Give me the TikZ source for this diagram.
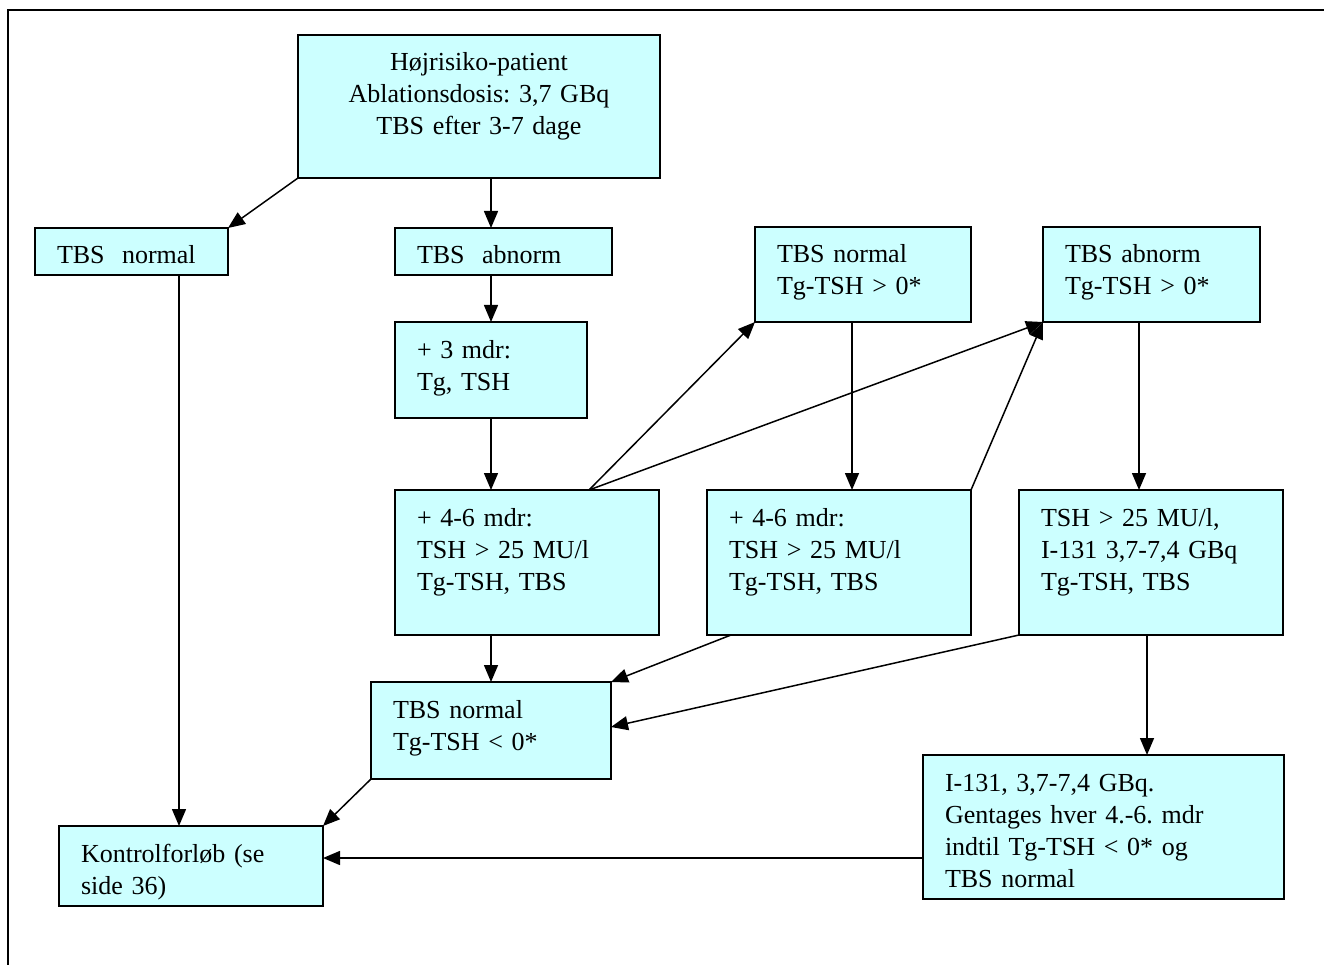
\documentclass[tikz,border=0pt]{standalone}
\usepackage{fontspec}
\setmainfont{Liberation Serif}
\usetikzlibrary{arrows.meta,calc}
\definecolor{boxfill}{RGB}{204,255,255}
\tikzset{
  box/.style={draw=black, line width=1.8pt, fill=boxfill, rectangle, inner sep=0pt, outer sep=0pt, anchor=north west},
  txt/.style={font=\fontsize{26}{32}\selectfont\frenchspacing, inner sep=0pt, outer sep=0pt, text width=340pt, align=left, anchor=base west},
  arr/.style={line width=1.5pt, -{Triangle[length=17pt,width=14pt]}},
  frame/.style={line width=2.2pt}
}
\newcommand{\boxtext}[3]{\node[txt] (#1t) at ([shift={(22pt,-36pt)}]#2.north west) {#3};}
\begin{document}
\frenchspacing
\begin{tikzpicture}[x=1pt,y=-1pt]
\useasboundingbox (0,0) rectangle (1324,965);
\draw[frame] (8,965) -- (8,10) -- (1324,10);

% boxes
\node[box, minimum width=362pt, minimum height=143pt] (top) at (298,35) {};
\node[txt, text width=362pt, align=center, anchor=base] (topt) at ([yshift=-36pt]top.north) {Højrisiko-patient\\Ablationsdosis: 3,7 GBq\\TBS efter 3-7 dage};

\node[box, minimum width=193pt, minimum height=47pt] (tn) at (35,228) {};
\boxtext{tn}{tn}{TBS\ \ normal}

\node[box, minimum width=217pt, minimum height=47pt] (ta) at (395,228) {};
\boxtext{ta}{ta}{TBS\ \ abnorm}

\node[box, minimum width=192pt, minimum height=96pt] (m3) at (395,322) {};
\boxtext{m3}{m3}{+ 3 mdr:\\Tg, TSH}

\node[box, minimum width=264pt, minimum height=145pt] (ma) at (395,490) {};
\boxtext{ma}{ma}{+ 4-6 mdr:\\TSH > 25 MU/l\\Tg-TSH, TBS}

\node[box, minimum width=216pt, minimum height=95pt] (tn2) at (755,227) {};
\boxtext{tn2}{tn2}{TBS normal\\Tg-TSH > 0*}

\node[box, minimum width=217pt, minimum height=95pt] (ta2) at (1043,227) {};
\boxtext{ta2}{ta2}{TBS abnorm\\Tg-TSH > 0*}

\node[box, minimum width=264pt, minimum height=145pt] (mb) at (707,490) {};
\boxtext{mb}{mb}{+ 4-6 mdr:\\TSH > 25 MU/l\\Tg-TSH, TBS}

\node[box, minimum width=264pt, minimum height=145pt] (tsh) at (1019,490) {};
\boxtext{tsh}{tsh}{TSH > 25 MU/l,\\I-131 3,7-7,4 GBq\\Tg-TSH, TBS}

\node[box, minimum width=240pt, minimum height=97pt] (tl) at (371,682) {};
\boxtext{tl}{tl}{TBS normal\\Tg-TSH < 0*}

\node[box, minimum width=264pt, minimum height=80pt] (kon) at (59,826) {};
\boxtext{kon}{kon}{Kontrolforløb (se\\side 36)}

\node[box, minimum width=361pt, minimum height=144pt] (ii) at (923,755) {};
\boxtext{ii}{ii}{I-131, 3,7-7,4 GBq.\\Gentages hver 4.-6. mdr\\indtil Tg-TSH < 0* og\\TBS normal}

% helper coordinates
\coordinate (c5) at ([xshift=194pt]ma.north west);
\coordinate (c8) at ([xshift=97pt]tn2.south west);
\coordinate (c9) at ([xshift=96pt]ta2.south west);
\coordinate (c10) at ([xshift=128pt]tsh.south west);
\coordinate (c12) at ([xshift=24pt]mb.south west);
\coordinate (c13) at ([yshift=-45pt]tl.north east);
\coordinate (c15) at ([xshift=144pt]tn.south west);
\coordinate (c16) at ([yshift=-103pt]ii.north west);

% connectors
\draw[arr] (top.south west) -- (tn.north east);
\draw[arr] (top.south -| m3.north) -- (ta.north -| m3.north);
\draw[arr] (ta.south -| m3.north) -- (m3.north);
\draw[arr] (m3.south) -- (ma.north -| m3.south);
\draw[arr] (c5) -- (tn2.south west);
\draw[arr] (c5) -- (ta2.south west);
\draw[arr] (mb.north east) -- (ta2.south west);
\draw[arr] (c8) -- (c8 |- mb.north);
\draw[arr] (c9) -- (c9 |- tsh.north);
\draw[arr] (c10) -- (c10 |- ii.north);
\draw[arr] (ma.south -| m3.south) -- (tl.north -| m3.south);
\draw[arr] (c12) -- (tl.north east);
\draw[arr] (tsh.south west) -- (c13);
\draw[arr] (tl.south west) -- (kon.north east);
\draw[arr] (c15) -- (c15 |- kon.north);
\draw[arr] (c16) -- (c16 -| kon.east);
\end{tikzpicture}
\end{document}
